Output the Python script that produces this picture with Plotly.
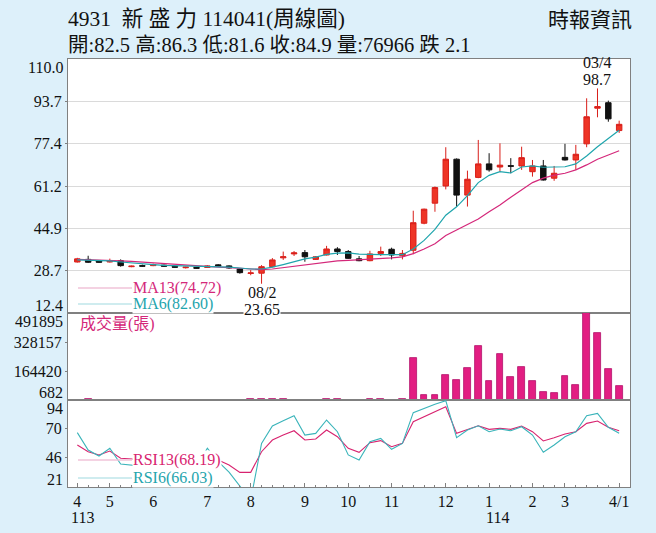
import plotly.graph_objects as go

# weekly candles, Apr 2024 (113) .. Apr 2025 (114), Lunar New Year week skipped
weeks = list(range(51))
opens = [32.0, 33.0, 32.4, 32.0, 32.5, 30.2, 30.6, 30.6, 30.8, 30.3,
         29.8, 29.9, 29.9, 30.9, 30.5, 29.3, 27.6, 27.7, 30.2, 33.6,
         35.1, 35.6, 33.0, 34.7, 37.0, 36.0, 33.2, 32.5, 35.3, 36.9,
         34.4, 36.5, 46.9, 54.6, 61.2, 71.5, 57.7, 64.5, 69.7, 68.5,
         69.0, 68.9, 66.7, 68.9, 64.2, 72.2, 71.2, 77.4, 91.1, 93.2,
         82.5]
highs = [33.6, 34.4, 32.6, 33.3, 33.0, 30.6, 31.0, 31.4, 31.0, 30.5,
         30.2, 30.1, 30.8, 31.2, 30.7, 29.5, 28.9, 30.8, 33.5, 36.0,
         36.2, 36.6, 34.3, 38.2, 37.7, 36.6, 34.3, 36.3, 37.9, 37.5,
         36.6, 51.7, 52.5, 61.0, 76.1, 71.8, 67.1, 78.9, 73.8, 77.6,
         71.9, 76.3, 71.2, 71.2, 68.9, 77.4, 77.0, 94.9, 98.7, 94.0,
         86.3]
lows = [31.8, 31.6, 31.7, 31.8, 30.2, 30.0, 30.1, 30.4, 30.2, 29.8,
        29.5, 29.4, 29.7, 30.3, 29.4, 27.5, 26.9, 23.65, 30.0, 32.8,
        34.3, 32.1, 32.8, 34.5, 34.7, 33.2, 32.3, 32.3, 34.3, 33.0,
        33.0, 35.0, 46.5, 51.3, 59.9, 53.3, 53.3, 64.2, 66.7, 66.7,
        66.1, 67.4, 64.8, 63.3, 63.2, 71.0, 67.4, 76.1, 87.6, 85.9,
        81.6]
closes = [33.2, 31.9, 31.9, 32.5, 30.6, 30.4, 30.4, 31.0, 30.4, 30.0,
          30.0, 29.6, 30.5, 30.5, 29.7, 27.9, 27.8, 30.2, 32.8, 34.0,
          35.5, 34.0, 34.0, 37.0, 36.0, 33.4, 32.5, 35.1, 36.0, 34.7,
          35.3, 47.1, 52.3, 60.6, 71.5, 57.7, 63.8, 69.7, 67.4, 69.2,
          68.8, 72.1, 68.9, 63.5, 66.1, 71.2, 73.4, 87.8, 91.7, 87.0,
          84.9]
ma13 = [33.0, 32.9, 32.8, 32.6, 32.4, 32.2, 31.9, 31.6, 31.3, 31.0,
        30.7, 30.4, 30.2, 30.0, 29.8, 29.5, 29.2, 29.1, 29.3, 29.8,
        30.4, 31.0, 31.5, 32.0, 32.4, 32.6, 32.8, 33.0, 33.3, 33.6,
        34.0, 35.2, 37.0, 39.0, 42.2, 44.3, 46.2, 48.5, 51.3, 53.9,
        56.9, 59.7, 62.5, 64.2, 65.4, 66.1, 67.4, 69.3, 71.5, 73.1,
        74.72]
ma6 = [32.8, 32.7, 32.5, 32.4, 32.0, 31.6, 31.3, 31.0, 30.7, 30.6,
       30.4, 30.2, 30.1, 30.1, 30.0, 29.7, 29.3, 29.3, 30.0, 31.0,
       32.2, 33.2, 33.9, 34.9, 35.4, 35.5, 35.0, 34.8, 34.8, 34.8,
       34.8, 37.0, 40.3, 44.5, 50.0, 53.2, 57.5, 62.5, 65.3, 66.7,
       66.2, 68.5, 68.9, 68.4, 68.4, 68.6, 69.7, 72.7, 76.3, 79.5,
       82.60]
volume = [2500, 6500, 2000, 2200, 2500, 1800, 1500, 1600, 1400, 1300,
          1200, 1100, 1500, 1600, 2000, 2500, 7000, 9000, 8000, 6000,
          3000, 3000, 2500, 7000, 6500, 3000, 2500, 5000, 5500, 3000,
          5000, 236600, 27500, 31000, 141800, 113200, 179500, 303400, 107500, 261700,
          132000, 185200, 109200, 44700, 40700, 136000, 88000, 491895, 381700, 176000,
          76966]
rsi13 = [56.2, 50.6, 47.9, 51.2, 45.1, 44.5, 44.0, 43.5, 42.5, 42.0,
         41.5, 42.5, 46.0, 43.7, 39.5, 33.3, 33.3, 50.6, 60.4, 64.6,
         68.2, 60.4, 61.3, 68.8, 63.2, 53.5, 50.1, 58.2, 59.9, 54.8,
         57.6, 75.8, 80.0, 84.2, 88.4, 66.0, 69.4, 72.4, 69.4, 70.2,
         69.4, 72.2, 67.4, 59.6, 62.4, 65.5, 67.4, 74.4, 76.4, 71.1,
         68.19]
rsi6 = [66.6, 52.0, 47.0, 53.5, 40.3, 39.5, 38.5, 37.5, 36.0, 36.5,
        35.0, 38.0, 53.5, 42.2, 33.5, 21.5, 10.0, 57.6, 72.2, 76.6,
        80.8, 64.6, 66.0, 77.2, 67.4, 47.9, 43.7, 59.0, 61.8, 52.6,
        57.6, 83.4, 87.0, 90.4, 93.4, 62.4, 68.8, 72.4, 67.4, 69.6,
        68.2, 71.6, 64.6, 50.1, 56.2, 63.2, 67.4, 80.8, 82.8, 71.1,
        66.03]

month_pos = [0, 3, 7, 12, 16, 21, 25, 29, 34, 38, 42, 45, 50]
month_text = ["4", "5", "6", "7", "8", "9", "10", "11", "12", "1", "2", "3", "4/1"]
year_pos = [0.5, 38.8]
year_text = ["113", "114"]
price_ticks = [12.4, 28.7, 44.9, 61.2, 77.4, 93.7, 110.0]
vol_ticks = [682, 164420, 328157, 491895]
rsi_ticks = [21, 46, 70, 94]
low_idx, low_date = 17, "08/2"
high_idx, high_date = 48, "03/4"

FONT = "Liberation Serif, Noto Sans CJK TC, serif"
BG = "#ddf0fa"
FRAME = "#808080"
MAGENTA = "#d4287a"
TEAL = "#1fa5ad"

fig = go.Figure()
fig.add_trace(go.Candlestick(
    x=weeks, open=opens, high=highs, low=lows, close=closes,
    increasing=dict(line=dict(color="#d91f1a", width=1), fillcolor="#ee3526"),
    decreasing=dict(line=dict(color="#111111", width=1), fillcolor="#111111"),
    xaxis="x", yaxis="y"))
fig.add_trace(go.Scatter(x=weeks, y=ma13, mode="lines",
                         line=dict(color=MAGENTA, width=1.2), xaxis="x", yaxis="y"))
fig.add_trace(go.Scatter(x=weeks, y=ma6, mode="lines",
                         line=dict(color=TEAL, width=1.2), xaxis="x", yaxis="y"))
fig.add_trace(go.Bar(x=weeks, y=volume, width=0.62,
                     marker=dict(color="#e21e82", line=dict(color="#b3106a", width=0.8)),
                     xaxis="x2", yaxis="y2"))
fig.add_trace(go.Scatter(x=weeks, y=rsi13, mode="lines",
                         line=dict(color="#d8236f", width=1.1), xaxis="x3", yaxis="y3"))
fig.add_trace(go.Scatter(x=weeks, y=rsi6, mode="lines",
                         line=dict(color="#3ab4ba", width=1.1), xaxis="x3", yaxis="y3"))

xdom = [68 / 656, 630 / 656]
price_dom = [1 - 313 / 533, 1 - 59 / 533]
vol_dom = [1 - 400 / 533, 1 - 313 / 533]
rsi_dom = [1 - 487 / 533, 1 - 400 / 533]
xr = [-0.86, 51.0]

frame = dict(showline=True, mirror=True, linecolor=FRAME, linewidth=1,
             zeroline=False, showgrid=False)
tickfont = dict(family=FONT, size=16, color="#111")

fig.update_layout(
    width=656, height=533, margin=dict(l=0, r=0, t=0, b=0),
    paper_bgcolor=BG, plot_bgcolor="white", showlegend=False,
    boxgap=0.28, bargap=0,
    font=dict(family=FONT, color="#111"),
    xaxis=dict(domain=xdom, range=xr, anchor="y", showticklabels=False,
               rangeslider=dict(visible=False), **frame),
    xaxis2=dict(domain=xdom, range=xr, anchor="y2", matches="x",
                showticklabels=False, **frame),
    xaxis3=dict(domain=xdom, range=xr, anchor="y3", matches="x",
                tickvals=month_pos, ticktext=month_text, tickfont=tickfont,
                ticks="inside", ticklen=4, tickcolor=FRAME,
                minor=dict(ticks="inside", ticklen=2, dtick=1, tick0=0, tickcolor=FRAME),
                **frame),
    yaxis=dict(domain=price_dom, range=[price_ticks[0], price_ticks[-1]], anchor="x",
               tickvals=price_ticks[1:-1], ticktext=[f"{v:.1f}" for v in price_ticks[1:-1]],
               tickfont=tickfont, ticks="outside", ticklen=2, tickcolor=FRAME,
               showline=True, mirror=True, linecolor=FRAME, zeroline=False,
               showgrid=True, gridcolor="#dadada", gridwidth=1),
    yaxis2=dict(domain=vol_dom, range=[vol_ticks[0], vol_ticks[-1]], anchor="x2",
                tickvals=vol_ticks[1:-1], ticktext=[str(v) for v in vol_ticks[1:-1]],
                tickfont=tickfont, ticks="outside", ticklen=2, tickcolor=FRAME, **frame),
    yaxis3=dict(domain=rsi_dom, range=[rsi_ticks[0], rsi_ticks[-1]], anchor="x3",
                tickvals=rsi_ticks[1:-1], ticktext=[str(v) for v in rsi_ticks[1:-1]],
                tickfont=tickfont, ticks="outside", ticklen=2, tickcolor=FRAME, **frame),
)

ann = []
# edge tick labels, pulled inside their panel like the original
for yref, vals, fmt in (("y", price_ticks, "{:.1f}"), ("y2", vol_ticks, "{}"),
                        ("y3", rsi_ticks, "{}")):
    ann.append(dict(xref="paper", x=xdom[0], xanchor="right", xshift=-3,
                    yref=yref, y=vals[0], yanchor="middle", yshift=8,
                    text=fmt.format(vals[0]), showarrow=False, font=tickfont))
    ann.append(dict(xref="paper", x=xdom[0], xanchor="right", xshift=-3,
                    yref=yref, y=vals[-1], yanchor="middle", yshift=-8,
                    text=fmt.format(vals[-1]), showarrow=False, font=tickfont))

for p, t in zip(year_pos, year_text):
    ann.append(dict(xref="x3", x=p, yref="paper", y=1 - 517 / 533, yanchor="middle",
                    text=t, showarrow=False, font=tickfont))

# title block
last = len(closes) - 1
info = (f"開:{opens[last]} 高:{highs[last]} 低:{lows[last]} 收:{closes[last]} "
        f"量:{volume[last]} 跌 {closes[last - 1] - closes[last]:.1f}")
ann.append(dict(xref="paper", yref="paper", x=66 / 656, y=1 - 19 / 533, xanchor="left",
                yanchor="middle", text="4931  新 盛 力 114041(周線圖)", showarrow=False,
                font=dict(family=FONT, size=21.5, color="#111")))
ann.append(dict(xref="paper", yref="paper", x=66 / 656, y=1 - 45 / 533, xanchor="left",
                yanchor="middle", text=info, showarrow=False,
                font=dict(family=FONT, size=20.5, color="#111")))
ann.append(dict(xref="paper", yref="paper", x=634 / 656, y=1 - 20 / 533, xanchor="right",
                yanchor="middle", text="時報資訊", showarrow=False,
                font=dict(family=FONT, size=21, color="#111")))

# low / high markers
ann.append(dict(x=low_idx, y=lows[low_idx], xref="x", yref="y", yanchor="middle", yshift=-9,
                text=low_date, showarrow=False, font=tickfont))
ann.append(dict(x=low_idx, y=lows[low_idx], xref="x", yref="y", yanchor="middle", yshift=-26,
                text=f"{lows[low_idx]:.2f}", showarrow=False, font=tickfont,
                bgcolor="white", borderpad=0))
ann.append(dict(x=high_idx, y=highs[high_idx], xref="x", yref="y", yanchor="middle", yshift=26,
                text=high_date, showarrow=False, font=tickfont))
ann.append(dict(x=high_idx, y=highs[high_idx], xref="x", yref="y", yanchor="middle", yshift=9,
                text=f"{highs[high_idx]:.1f}", showarrow=False, font=tickfont))

# in-panel legends, text boxes hide the lines behind them
legend_items = [
    (1 - 288 / 533, f"MA13({ma13[-1]:.2f})", MAGENTA, "#f1c3d9"),
    (1 - 304 / 533, f"MA6({ma6[-1]:.2f})", TEAL, "#bfe6ea"),
    (1 - 460 / 533, f"RSI13({rsi13[-1]:.2f})", "#d8236f", "#f1c3d9"),
    (1 - 478 / 533, f"RSI6({rsi6[-1]:.2f})", TEAL, "#bfe6ea"),
]
shapes = []
for y, text, col, pale in legend_items:
    shapes.append(dict(type="line", xref="paper", yref="paper", x0=78 / 656, x1=132 / 656,
                       y0=y, y1=y, line=dict(color=pale, width=1.5)))
    ann.append(dict(xref="paper", yref="paper", x=132 / 656, y=y, xanchor="left",
                    yanchor="middle", text=text, showarrow=False, bgcolor="white",
                    borderpad=0, font=dict(family=FONT, size=16, color=col)))
ann.append(dict(xref="paper", yref="paper", x=78 / 656, y=1 - 324 / 533, xanchor="left",
                yanchor="middle", text="成交量(張)", showarrow=False,
                font=dict(family=FONT, size=16, color=MAGENTA)))

fig.update_layout(annotations=ann, shapes=shapes)
fig.write_html("out.html", config={"displayModeBar": False},
               post_script="document.body.style.margin='0';"
                           "document.body.style.background='" + BG + "';")
